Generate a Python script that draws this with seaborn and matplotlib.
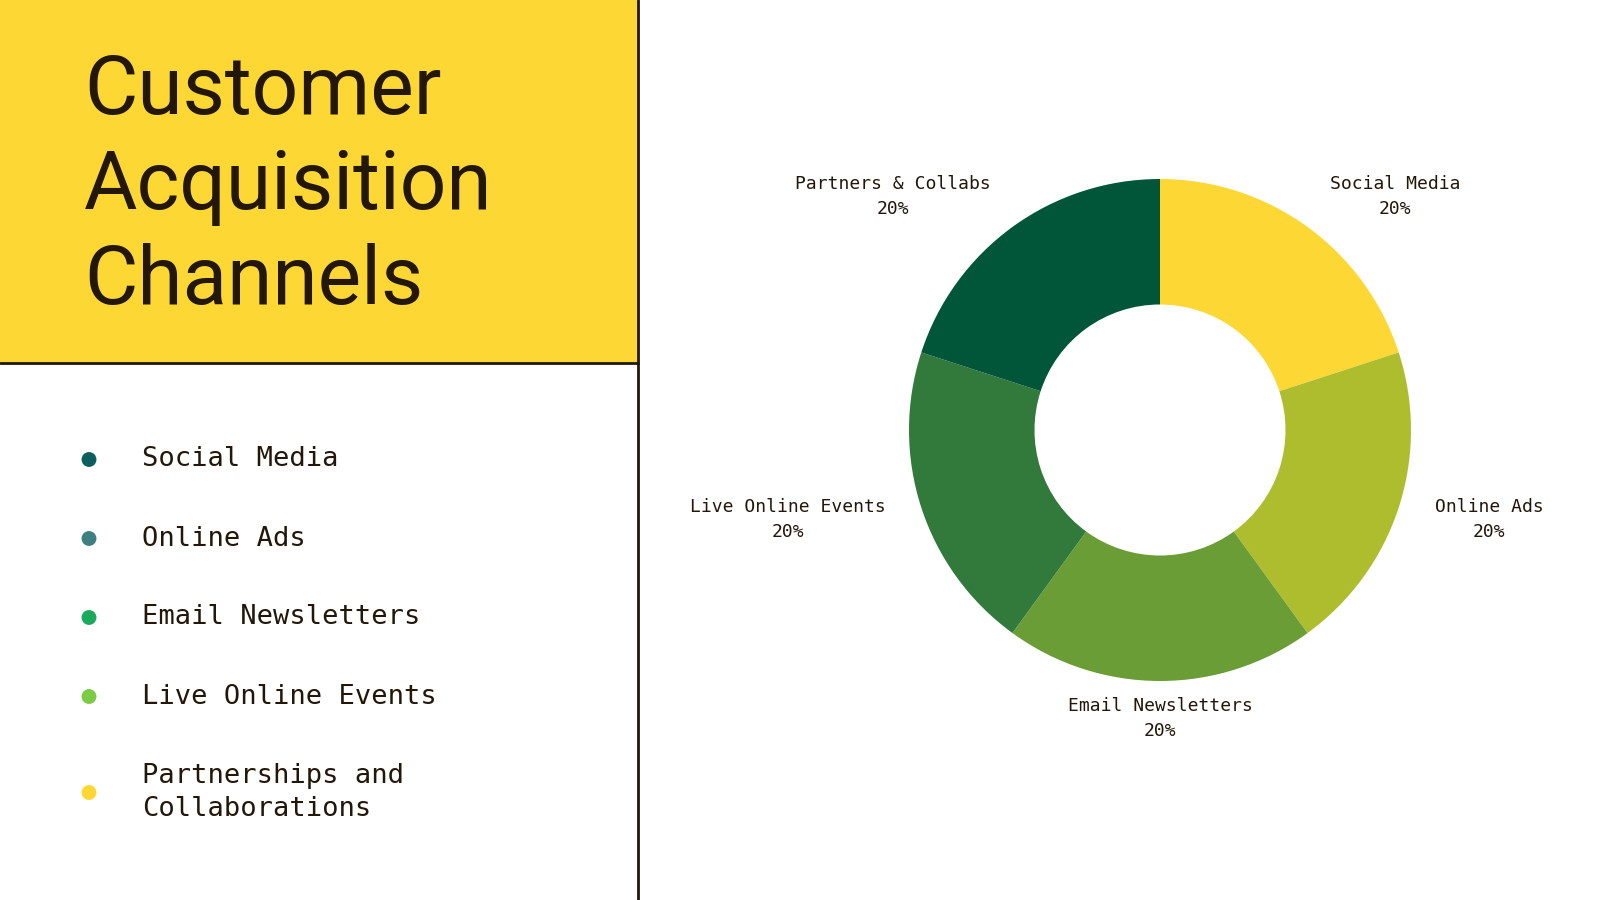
import numpy as np
import pandas as pd
import matplotlib.pyplot as plt
import seaborn as sns
from matplotlib.patches import Rectangle

# Title and legend list on the left
title = "Customer\nAcquisition\nChannels"
legend_labels = ["Social Media", "Online Ads", "Email Newsletters",
                 "Live Online Events", "Partnerships and\nCollaborations"]
legend_colors = ["#0D5F5F", "#3E8080", "#1BAA5B", "#7BCB45", "#FDD835"]

# Donut data
channels = ["Social Media", "Online Ads", "Email Newsletters",
            "Live Online Events", "Partners & Collabs"]
shares = [20, 20, 20, 20, 20]
slice_colors = ["#FDD733", "#AEBD2E", "#6A9D36", "#32793C", "#01563A"]

ink = "#231709"
panel_yellow = "#FDD835"

sns.set_theme(style="white")
plt.rcParams["font.family"] = ["DejaVu Sans Mono", "DejaVu Sans"]

fig = plt.figure(figsize=(16, 9), dpi=100)
fig.patch.set_facecolor("white")

# background axes in pixel units for the left panel
base = fig.add_axes([0, 0, 1, 1])
base.set_xlim(0, 1600)
base.set_ylim(900, 0)
base.axis("off")

panel_w, panel_h = 638, 363
base.add_patch(Rectangle((0, 0), panel_w, panel_h, facecolor=panel_yellow, edgecolor="none"))
base.plot([0, panel_w], [panel_h, panel_h], color=ink, lw=2)
base.plot([panel_w, panel_w], [0, 900], color=ink, lw=2)

base.text(84, 53, title, ha="left", va="top", fontsize=59, family="Roboto",
          color=ink, linespacing=1.28)

# legend rows: dot + label
row_top, row_gap, line_gap = 459.5, 79, 17
leg = pd.DataFrame({"label": legend_labels})
leg["lines"] = leg["label"].str.count("\n") + 1
leg["y"] = row_top + row_gap * leg.index + (leg["lines"] - 1) * line_gap
leg["x"] = 89
sns.scatterplot(data=leg, x="x", y="y", hue="label",
                palette=dict(zip(legend_labels, legend_colors)),
                s=115, linewidth=0, legend=False, ax=base)
base.set_xlim(0, 1600)
base.set_ylim(900, 0)
base.axis("off")
for _, r in leg.iterrows():
    base.text(142, r["y"], r["label"], ha="left", va="center", fontsize=19.5,
              color=ink, linespacing=1.36)

# donut
cx, cy, R = 1160, 430, 251
ax = fig.add_axes([640 / 1600, 0, 960 / 1600, 1])
ax.patch.set_alpha(0)
wedges, _ = ax.pie(shares, colors=slice_colors, startangle=90, counterclock=False,
                   radius=1, wedgeprops=dict(width=0.5, edgecolor="none"))
ax.set_aspect("auto")
ax.set_xlim((640 - cx) / R, (1600 - cx) / R)
ax.set_ylim(-(900 - cy) / R, cy / R)
ax.axis("off")

for w, name, val in zip(wedges, channels, shares):
    ang = np.deg2rad((w.theta1 + w.theta2) / 2)
    x, y = 1.15 * np.cos(ang), 1.15 * np.sin(ang)
    if abs(x) < 0.05:
        ha = "center"
    else:
        ha = "left" if x > 0 else "right"
    ax.text(x, y, f"{name}\n{val}%", ha=ha, va="center", multialignment="center",
            fontsize=13, color=ink, linespacing=1.5)

fig.savefig("out.png", dpi=100)
